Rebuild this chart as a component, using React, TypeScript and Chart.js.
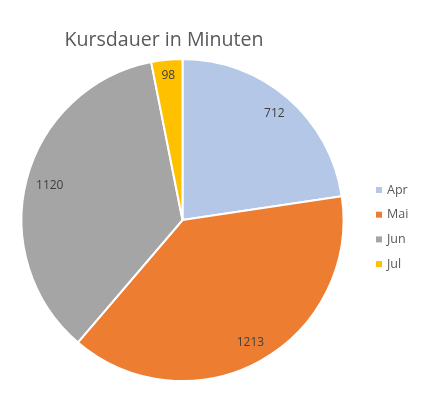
import React, { useEffect, useRef } from "react";
import { Chart, registerables } from "chart.js";

Chart.register(...registerables);

const categories = ["Apr", "Mai", "Jun", "Jul"];
const values = [712, 1213, 1120, 98];
const colors = ["#B4C7E7", "#ED7D31", "#A5A5A5", "#FFC000"];
const titleText = "Kursdauer in Minuten";

const FONT = "'Open Sans', 'Liberation Sans', sans-serif";

const overlayPlugin = {
  id: "overlay",
  afterDatasetsDraw(chart: any) {
    const ctx = chart.ctx;
    const meta = chart.getDatasetMeta(0);
    ctx.save();
    ctx.font = `12px ${FONT}`;
    ctx.fillStyle = "#404040";
    ctx.textAlign = "center";
    ctx.textBaseline = "middle";
    meta.data.forEach((arc: any, i: number) => {
      const { x, y, startAngle, endAngle, outerRadius } = arc.getProps(
        ["x", "y", "startAngle", "endAngle", "outerRadius"],
        true
      );
      const mid = (startAngle + endAngle) / 2;
      const dx = Math.cos(mid);
      const dy = Math.sin(mid);
      const text = String(values[i]);
      const w = ctx.measureText(text).width;
      const h = 12;
      const ext = (w / 2) * Math.abs(dx) + (h / 2) * Math.abs(dy);
      const d = outerRadius - 9 - ext;
      ctx.fillText(text, x + dx * d, y + dy * d);
    });
    ctx.restore();
  },
  afterDraw(chart: any) {
    const ctx = chart.ctx;
    ctx.save();
    ctx.font = `19.6px ${FONT}`;
    ctx.fillStyle = "#595959";
    ctx.textAlign = "center";
    ctx.textBaseline = "alphabetic";
    ctx.fillText(titleText, 164, 46);
    ctx.font = `12.5px ${FONT}`;
    ctx.textAlign = "left";
    ctx.textBaseline = "middle";
    categories.forEach((c, i) => {
      const cy = 190 + i * 24.7;
      ctx.fillStyle = colors[i];
      ctx.fillRect(376, cy - 3, 6, 6);
      ctx.fillStyle = "#595959";
      ctx.fillText(c, 387, cy);
    });
    ctx.restore();
  },
};

export default function App() {
  const ref = useRef<HTMLCanvasElement | null>(null);
  useEffect(() => {
    if (!ref.current) return;
    const chart = new Chart(ref.current, {
      type: "pie",
      data: {
        labels: categories,
        datasets: [
          {
            data: values,
            backgroundColor: colors,
            borderColor: "#FFFFFF",
            borderWidth: 2,
          },
        ],
      },
      options: {
        responsive: false,
        animation: false,
        events: [],
        layout: { padding: { top: 58, bottom: 14, left: 20, right: 88 } },
        plugins: {
          legend: { display: false },
          title: { display: false },
          tooltip: { enabled: false },
        },
      },
      plugins: [overlayPlugin],
    });
    return () => chart.destroy();
  }, []);
  return (
    <div style={{ position: "absolute", left: 0, top: 0, width: 433, height: 396, background: "#fff" }}>
      <canvas ref={ref} width={433} height={396} />
    </div>
  );
}
